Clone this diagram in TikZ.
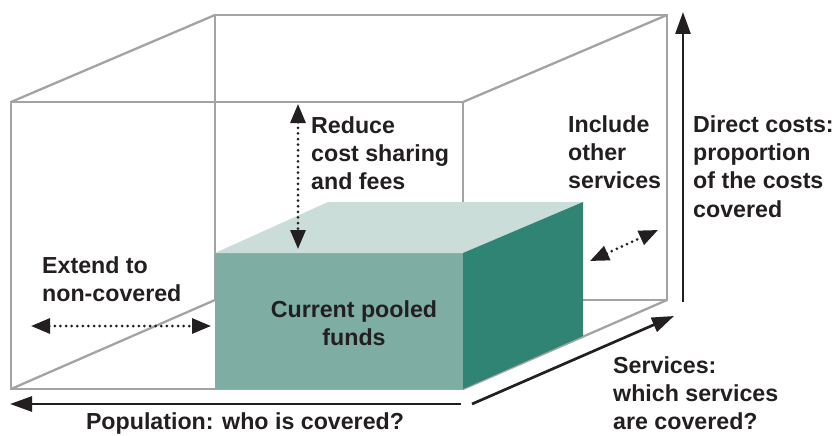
\documentclass[tikz,border=0pt]{standalone}
\usepackage{fontspec}
\setmainfont{Liberation Sans}
\usetikzlibrary{arrows.meta}
\definecolor{edgegray}{HTML}{A3A3A3}
\definecolor{fundfront}{HTML}{7DADA3}
\definecolor{fundtop}{HTML}{CADDD8}
\definecolor{fundside}{HTML}{2F8474}
\definecolor{ink}{HTML}{231F20}
\begin{document}
\begin{tikzpicture}[x=1pt,y=-1pt,
  frame/.style={draw=edgegray,line width=2.3pt,line join=miter},
  axisarrow/.style={draw=ink,line width=2.7pt,-{Triangle[length=22pt,width=15pt]}},
  change/.style={draw=ink,line width=3pt,dash pattern=on 0pt off 5.6pt,line cap=round,
    {Triangle[length=19pt,width=15pt]}-{Triangle[length=19pt,width=15pt]}},
  label/.style={font=\bfseries\fontsize{23.2}{28.4}\selectfont,text=ink,inner sep=0pt,align=left,anchor=north west}]
\useasboundingbox (0,0) rectangle (840,436);

% outer cube: front and back faces with their connecting edges
\coordinate (ftl) at (11,102);  \coordinate (ftr) at (463,102);
\coordinate (fbr) at (463,389); \coordinate (fbl) at (11,389);
\coordinate (btl) at (215,15);  \coordinate (btr) at (667,15);
\coordinate (bbr) at (667,300); \coordinate (bbl) at (215,300);
\draw[frame] (ftl) -- (ftr) -- (fbr) -- (fbl) -- cycle;
\draw[frame] (btl) -- (btr) -- (bbr) -- (bbl) -- cycle;
\draw[frame] (ftl) -- (btl) (ftr) -- (btr) (fbr) -- (bbr) (fbl) -- (bbl);

% pooled funds block
\coordinate (gftl) at (215,253); \coordinate (gftr) at (463,253);
\coordinate (gfbr) at (463,389); \coordinate (gfbl) at (215,389);
\coordinate (gbtl) at (328,202); \coordinate (gbtr) at (583,202);
\coordinate (gbbr) at (583,336);
\fill[fundfront] (gftl) -- (gftr) -- (gfbr) -- (gfbl) -- cycle;
\fill[fundtop] (gftl) -- (gbtl) -- (gbtr) -- (gftr) -- cycle;
\fill[fundside] (gftr) -- (gbtr) -- (gbbr) -- (gfbr) -- cycle;
\node[label,anchor=center,align=center] (funds) at (354,323) {Current pooled\\funds};

% axes
\coordinate (costlow) at (683,302);  \coordinate (costhigh) at (683,12);
\coordinate (poplow) at (461,404);   \coordinate (pophigh) at (10,404);
\coordinate (servlow) at (472,404);  \coordinate (servhigh) at (674,316);
\draw[axisarrow] (costlow) -- (costhigh);
\draw[axisarrow] (poplow) -- (pophigh);
\draw[axisarrow] (servlow) -- (servhigh);

% directions of expansion
\coordinate (exta) at (31,326);  \coordinate (extb) at (211,326);
\coordinate (reda) at (298,104); \coordinate (redb) at (298,249);
\coordinate (inca) at (590,261); \coordinate (incb) at (658,230);
\draw[change] (exta) -- (extb);
\draw[change] (reda) -- (redb);
\draw[change] (inca) -- (incb);

% labels
\node[label] (reduce) at (311,116) {Reduce\\cost sharing\\and fees};
\node[label] (include) at (568,115) {Include\\other\\services};
\node[label] (direct) at (693,115) {Direct costs:\\proportion\\of the costs\\covered};
\node[label] (extend) at (42,256) {Extend to\\non-covered};
\node[label,anchor=north] (population) at (245,412) {Population: who is covered?};
\node[label] (services) at (613,356) {Services:\\which services\\are covered?};
\end{tikzpicture}
\end{document}
